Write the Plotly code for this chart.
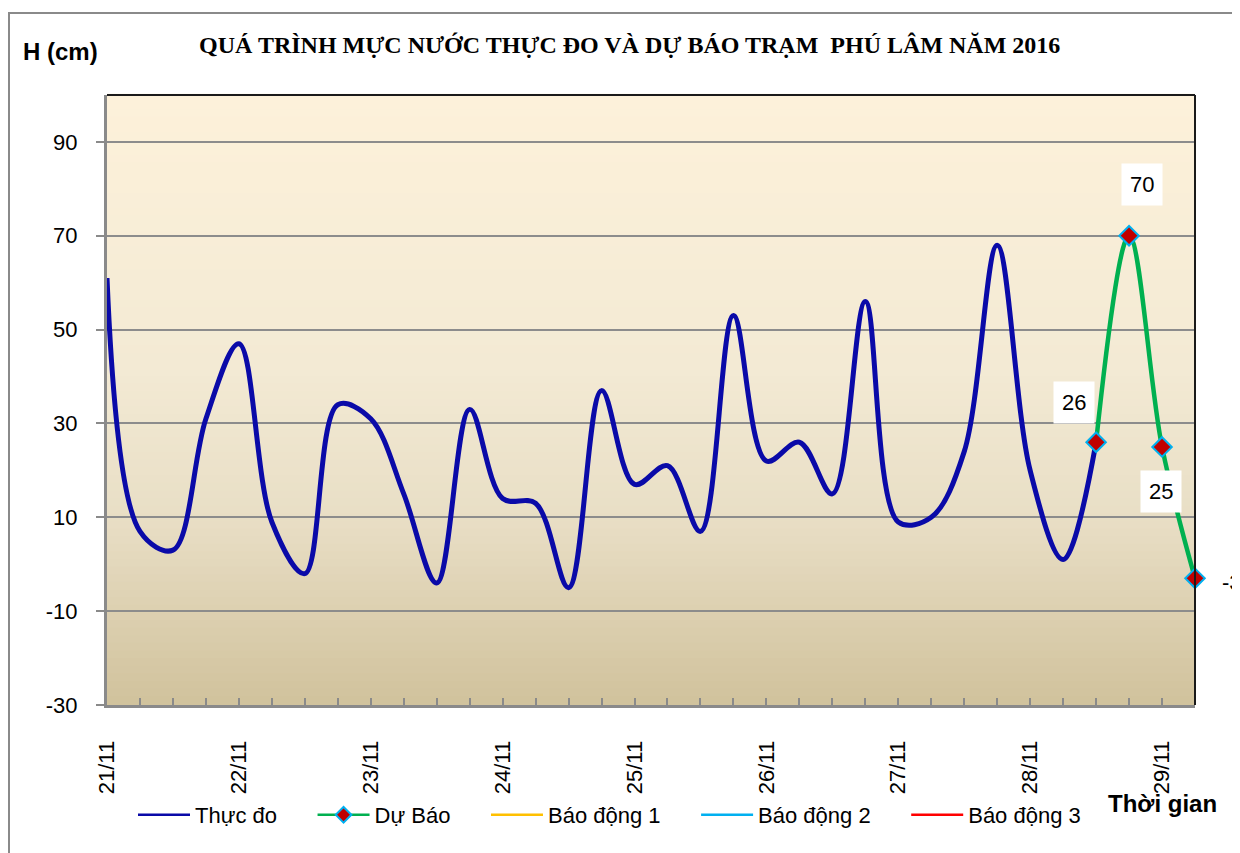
import plotly.graph_objects as go

# ---------------- data ----------------
obs_time = [
    "2016-11-21 00:00", "2016-11-21 06:00", "2016-11-21 12:00", "2016-11-21 18:00",
    "2016-11-22 00:00", "2016-11-22 06:00", "2016-11-22 12:00", "2016-11-22 18:00",
    "2016-11-23 00:00", "2016-11-23 06:00", "2016-11-23 12:00", "2016-11-23 18:00",
    "2016-11-24 00:00", "2016-11-24 06:00", "2016-11-24 12:00", "2016-11-24 18:00",
    "2016-11-25 00:00", "2016-11-25 06:00", "2016-11-25 12:00", "2016-11-25 18:00",
    "2016-11-26 00:00", "2016-11-26 06:00", "2016-11-26 12:00", "2016-11-26 18:00",
    "2016-11-27 00:00", "2016-11-27 06:00", "2016-11-27 12:00", "2016-11-27 18:00",
    "2016-11-28 00:00", "2016-11-28 06:00", "2016-11-28 12:00",
]
obs_level = [61, 7, 3, 31, 47, 9, -2, 34, 31, 15, -4, 33, 14, 13, -5, 37,
             17, 21, 7, 53, 22, 26, 15, 56, 9, 10, 24, 68, 20, 1, 26]

fc_time = ["2016-11-28 12:00", "2016-11-28 18:00", "2016-11-29 00:00", "2016-11-29 06:00"]
fc_level = [26, 70, 25, -3]

alarm_time = ["2016-11-21 00:00", "2016-11-29 06:00"]
alarm1 = [140, 140]
alarm2 = [150, 150]
alarm3 = [160, 160]

y_ticks = [-30, -10, 10, 30, 50, 70, 90]

TITLE = "QUÁ TRÌNH MỰC NƯỚC THỰC ĐO VÀ DỰ BÁO TRẠM  PHÚ LÂM NĂM 2016"

NB = "\u00a0"
PAD = NB * 5

# ---------------- figure ----------------
fig = go.Figure()

OBS_COL = "#0a0aa8"
FC_COL = "#00b050"
MK = dict(symbol="diamond", color="#c00000", line=dict(color="#00b0f0", width=2))

fig.add_trace(go.Scatter(
    x=obs_time, y=obs_level, name="Thực đo", mode="lines", showlegend=False,
    line=dict(color=OBS_COL, width=5, shape="spline", smoothing=1.0),
))
fig.add_trace(go.Scatter(
    x=fc_time, y=fc_level, name="Dự Báo", mode="lines+markers", showlegend=False,
    line=dict(color=FC_COL, width=4.5, shape="spline", smoothing=1.0),
    marker=dict(size=15, **MK),
    cliponaxis=False,
))
alarms = [("Báo động 1", alarm1, "#ffc000"),
          ("Báo động 2", alarm2, "#00b0f0"),
          ("Báo động 3", alarm3, "#ff0000")]
for nm, vals, col in alarms:
    fig.add_trace(go.Scatter(x=alarm_time, y=vals, name=nm, mode="lines",
                             showlegend=False, line=dict(color=col, width=2)))

# legend entries (thin symbols as in the original legend)
fig.add_trace(go.Scatter(x=[None], y=[None], name="Thực đo" + PAD, mode="lines",
                         line=dict(color=OBS_COL, width=2.5)))
fig.add_trace(go.Scatter(x=[None], y=[None], name="Dự Báo" + PAD, mode="lines+markers",
                         line=dict(color=FC_COL, width=2.5), marker=dict(size=12, **MK)))
for i, (nm, vals, col) in enumerate(alarms):
    fig.add_trace(go.Scatter(x=[None], y=[None], name=nm + (PAD if i < 2 else ""),
                             mode="lines", line=dict(color=col, width=2.5)))

# ---------------- background gradient (plot area) ----------------
stops = [(0.0, (253, 241, 218)), (0.45, (243, 234, 212)),
         (0.7, (232, 222, 197)), (1.0, (209, 194, 156))]


def col_at(t):
    for (t0, c0), (t1, c1) in zip(stops[:-1], stops[1:]):
        if t <= t1:
            f = (t - t0) / (t1 - t0)
            return "rgb(%d,%d,%d)" % tuple(round(a + (b - a) * f) for a, b in zip(c0, c1))
    return "rgb(%d,%d,%d)" % stops[-1][1]


shapes = []
N = 80
for i in range(N):
    t = (i + 0.5) / N
    shapes.append(dict(type="rect", xref="paper", yref="paper", x0=0, x1=1,
                       y0=1 - (i + 1) / N, y1=1 - i / N + 0.002,
                       fillcolor=col_at(t), line=dict(width=0), layer="below"))
# top and right plot borders (dark)
shapes.append(dict(type="line", xref="paper", yref="paper", x0=0, x1=1, y0=1, y1=1,
                   line=dict(color="#1a1a1a", width=2), layer="above"))
shapes.append(dict(type="line", xref="paper", yref="paper", x0=1, x1=1, y0=0, y1=1,
                   line=dict(color="#1a1a1a", width=2), layer="above"))
# outer chart border
shapes.append(dict(type="rect", xref="paper", yref="paper",
                   x0=(9 - 107) / 1088, x1=1.2, y0=-0.4, y1=(705 - 13) / 610,
                   line=dict(color="#8a8a8a", width=2), fillcolor="rgba(0,0,0,0)",
                   layer="below"))

# ---------------- annotations ----------------
ann = [
    dict(text="<b>" + TITLE + "</b>", xref="paper", yref="paper",
         x=(629 - 107) / 1088, y=(705 - 45) / 610, showarrow=False,
         xanchor="center", yanchor="middle",
         font=dict(family="Liberation Serif", size=24, color="black")),
    dict(text="<b>H (cm)</b>", xref="paper", yref="paper",
         x=(60 - 107) / 1088, y=(705 - 52) / 610, showarrow=False,
         xanchor="center", yanchor="middle",
         font=dict(family="Liberation Sans", size=24, color="black")),
    dict(text="<b>Thời gian</b>", xref="paper", yref="paper",
         x=(1162 - 107) / 1088, y=(705 - 803) / 610, showarrow=False,
         xanchor="center", yanchor="middle",
         font=dict(family="Liberation Sans", size=24, color="black")),
]
label_offsets = [(-22, 40, "center"), (13, 51, "center"), (-1, -45, "center"), (18, -4, "left")]
for t, v, (dx, dy, xa) in zip(fc_time, fc_level, label_offsets):
    ann.append(dict(text=str(v), x=t, y=v, xref="x", yref="y", showarrow=False,
                    xshift=dx, yshift=dy, xanchor=xa, yanchor="middle",
                    bgcolor="white" if xa == "center" else "rgba(0,0,0,0)",
                    borderpad=8,
                    font=dict(family="Liberation Sans", size=22, color="black")))

# page is offset by the 8px body margin: plot area at x 107..1195, y 95..705
fig.update_layout(
    width=1240, height=853,
    margin=dict(l=99, r=53, t=87, b=156),
    paper_bgcolor="white", plot_bgcolor="rgba(0,0,0,0)",
    shapes=shapes, annotations=ann,
    showlegend=True,
    legend=dict(orientation="h", x=(133 - 107) / 1088, xanchor="left",
                y=(705 - 815) / 610, yanchor="middle",
                font=dict(family="Liberation Sans", size=22, color="black"),
                bgcolor="rgba(0,0,0,0)", itemwidth=52, tracegroupgap=0),
    font=dict(family="Liberation Sans", color="black"),
)

fig.update_xaxes(
    type="date", range=["2016-11-21 00:00", "2016-11-29 06:00"],
    tickformat="%d/%m", dtick=86400000, tick0="2016-11-21",
    tickangle=-90, ticks="inside", ticklen=7, tickcolor="#8a8a8a", tickwidth=2,
    minor=dict(dtick=21600000, ticks="inside", ticklen=7, tickcolor="#8a8a8a",
               tickwidth=2, showgrid=False),
    showgrid=False, zeroline=False,
    showline=True, linecolor="#8a8a8a", linewidth=3,
    tickfont=dict(family="Liberation Sans", size=22, color="black"),
    ticklabelstandoff=24,
)
fig.update_yaxes(
    range=[-30, 100], tickvals=y_ticks, ticktext=[str(v) for v in y_ticks],
    ticks="outside", ticklen=8, tickcolor="#8a8a8a", tickwidth=2,
    showgrid=True, gridcolor="#8c8c8c", gridwidth=2, zeroline=False,
    showline=True, linecolor="#8a8a8a", linewidth=3,
    tickfont=dict(family="Liberation Sans", size=22, color="black"),
    ticklabelstandoff=14,
)

fig.write_html("out.html")
